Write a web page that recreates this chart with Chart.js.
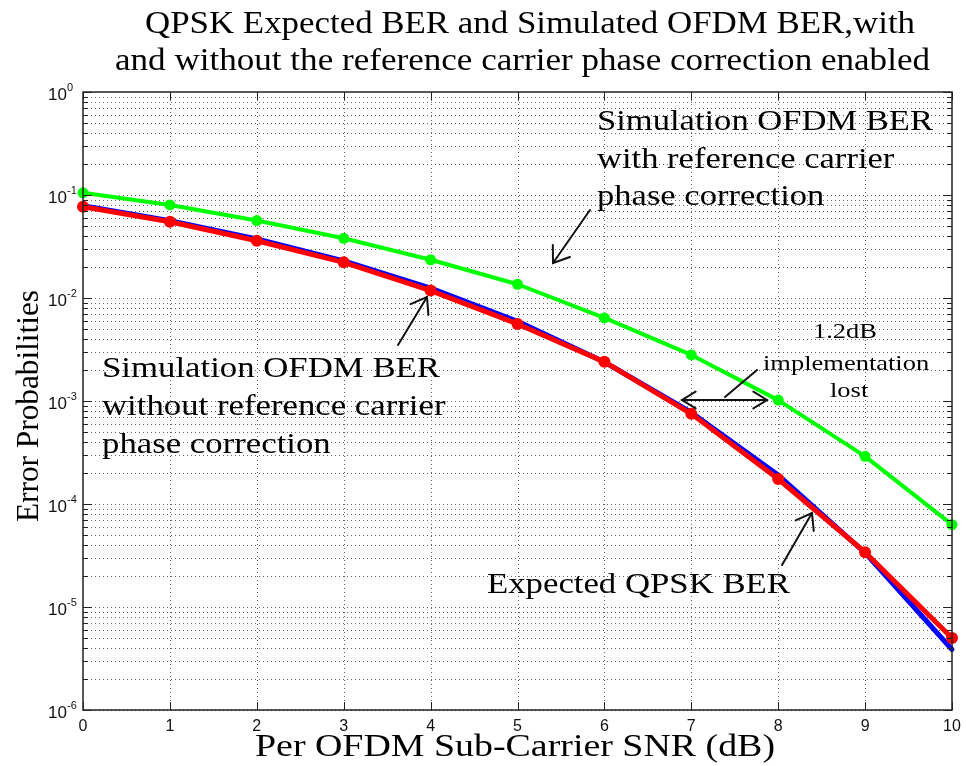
<!DOCTYPE html>
<html>
<head>
<meta charset="utf-8">
<script src="https://cdn.jsdelivr.net/npm/chart.js@4.4.1/dist/chart.umd.min.js"></script>
<style>
  html, body { margin: 0; padding: 0; background: #fff; }
  #wrap { width: 966px; height: 766px; position: relative; }
</style>
</head>
<body>
<div id="wrap"><canvas id="berChart"></canvas></div>
<script>
// ── DATA ──
const snrDb        = [0, 1, 2, 3, 4, 5, 6, 7, 8, 9, 10];
const berWithPhase = [0.105, 0.080, 0.0565, 0.038, 0.0235, 0.0136, 0.0064, 0.0028, 1.02e-3, 2.9e-4, 6.3e-5];
const berNoPhase   = [0.077, 0.055, 0.036, 0.0222, 0.0118, 0.0056, 0.0024, 7.5e-4, 1.75e-4, 3.4e-5, 5.0e-6];
const berExpected  = [0.0786, 0.0563, 0.0375, 0.0229, 0.0125, 0.00595, 0.00239, 7.73e-4, 1.91e-4, 3.36e-5, 3.87e-6];
const xTicks       = [0, 1, 2, 3, 4, 5, 6, 7, 8, 9, 10];
const yDecades     = [0, -1, -2, -3, -4, -5, -6];

const SERIF = '"Liberation Serif", "Times New Roman", serif';
const SANS  = '"Liberation Sans", Arial, sans-serif';

const toPoints = ys => snrDb.map((x, i) => ({ x, y: ys[i] }));

// ── TEXT HELPERS ──
// draws a string squeezed/stretched so it spans the given width
function fitText(ctx, str, left, baseline, width) {
  const w = ctx.measureText(str).width;
  ctx.save();
  ctx.translate(left, baseline);
  ctx.scale(width / w, 1);
  ctx.fillText(str, 0, 0);
  ctx.restore();
}

// block of lines sharing the horizontal scale of its first line;
// left can be one x for all lines or one x per line
function textBlock(ctx, lines, left, baselines, firstWidth) {
  const k = firstWidth / ctx.measureText(lines[0]).width;
  lines.forEach((s, i) => {
    ctx.save();
    ctx.translate(Array.isArray(left) ? left[i] : left, baselines[i]);
    ctx.scale(k, 1);
    ctx.fillText(s, 0, 0);
    ctx.restore();
  });
}

function arrowHead(ctx, tx, ty, fx, fy, len, spread) {
  const a = Math.atan2(fy - ty, fx - tx);
  ctx.beginPath();
  ctx.moveTo(tx + len * Math.cos(a - spread), ty + len * Math.sin(a - spread));
  ctx.lineTo(tx, ty);
  ctx.lineTo(tx + len * Math.cos(a + spread), ty + len * Math.sin(a + spread));
  ctx.stroke();
}

function arrow(ctx, fx, fy, tx, ty) {
  ctx.beginPath();
  ctx.moveTo(fx, fy);
  ctx.lineTo(tx, ty);
  ctx.stroke();
  arrowHead(ctx, tx, ty, fx, fy, 18, 0.62);
}

// ── GRID (dotted, matlab style) ──
const gridPlugin = {
  id: 'dottedGrid',
  beforeDatasetsDraw(chart) {
    const { ctx, chartArea: a, scales: { x, y } } = chart;
    ctx.save();
    ctx.strokeStyle = '#666';
    ctx.lineWidth = 1;
    ctx.setLineDash([1, 3]);
    xTicks.slice(1, -1).forEach(v => {
      const px = Math.round(x.getPixelForValue(v)) + 0.5;
      ctx.beginPath(); ctx.moveTo(px, a.top); ctx.lineTo(px, a.bottom); ctx.stroke();
    });
    yDecades.slice(1).forEach(e => {
      for (let m = 1; m <= 9; m++) {
        const v = m * Math.pow(10, e);
        if (v >= 1) continue;
        const py = Math.round(y.getPixelForValue(v)) + 0.5;
        ctx.beginPath(); ctx.moveTo(a.left, py); ctx.lineTo(a.right, py); ctx.stroke();
      }
    });
    ctx.restore();
  }
};

// ── FRAME, TICKS, LABELS, NOTES ──
const framePlugin = {
  id: 'frameAndNotes',
  afterDatasetsDraw(chart) {
    const { ctx, chartArea: a, scales: { x, y } } = chart;
    ctx.save();

    // box
    ctx.strokeStyle = '#222';
    ctx.lineWidth = 1.5;
    ctx.strokeRect(a.left, a.top, a.right - a.left, a.bottom - a.top);

    // inward ticks
    ctx.lineWidth = 1;
    xTicks.forEach(v => {
      const px = Math.round(x.getPixelForValue(v)) + 0.5;
      ctx.beginPath();
      ctx.moveTo(px, a.bottom); ctx.lineTo(px, a.bottom - 8);
      ctx.moveTo(px, a.top);    ctx.lineTo(px, a.top + 8);
      ctx.stroke();
    });
    yDecades.forEach(e => {
      for (let m = 1; m <= 9; m++) {
        const v = m * Math.pow(10, e);
        if (v > 1) continue;
        const py = Math.round(y.getPixelForValue(v)) + 0.5;
        const len = m === 1 ? 9 : 5;
        ctx.beginPath();
        ctx.moveTo(a.left, py);  ctx.lineTo(a.left + len, py);
        ctx.moveTo(a.right, py); ctx.lineTo(a.right - len, py);
        ctx.stroke();
      }
    });

    // tick labels
    ctx.fillStyle = '#111';
    ctx.font = '16px ' + SANS;
    ctx.textAlign = 'center';
    ctx.textBaseline = 'middle';
    xTicks.forEach(v => ctx.fillText(String(v), x.getPixelForValue(v), a.bottom + 17));

    ctx.textBaseline = 'alphabetic';
    yDecades.forEach(e => {
      const py = y.getPixelForValue(Math.pow(10, e));
      ctx.font = '17px ' + SANS;
      ctx.textAlign = 'right';
      ctx.fillText('10', 67, py + 8);
      ctx.font = '11px ' + SANS;
      ctx.textAlign = 'left';
      ctx.fillText(String(e), 67, py - 1);
    });

    // titles
    ctx.fillStyle = '#000';
    ctx.textAlign = 'left';
    ctx.font = '32px ' + SERIF;
    fitText(ctx, 'QPSK Expected BER and Simulated OFDM BER,with', 145, 33, 770);
    fitText(ctx, 'and without the reference carrier phase correction enabled', 115, 70, 815);
    fitText(ctx, 'Per OFDM Sub-Carrier SNR (dB)', 255, 756, 520);

    ctx.save();
    ctx.translate(38, 522);
    ctx.rotate(-Math.PI / 2);
    fitText(ctx, 'Error Probabilities', 0, 0, 232);
    ctx.restore();

    // annotations
    ctx.font = '30px ' + SERIF;
    textBlock(ctx, ['Simulation OFDM BER', 'with reference carrier', 'phase correction'],
      597, [130, 168, 205], 336);
    textBlock(ctx, ['Simulation OFDM BER', 'without reference carrier', 'phase correction'],
      102, [377, 415, 453], 338);
    fitText(ctx, 'Expected QPSK BER', 487, 593, 303);

    ctx.font = '21px ' + SERIF;
    textBlock(ctx, ['1.2dB', 'implementation', 'lost'],
      [813, 763, 830], [338, 370, 397], 64);

    ctx.strokeStyle = '#111';
    ctx.lineWidth = 2;
    ctx.lineCap = 'round';
    arrow(ctx, 590, 210, 553, 263);
    arrow(ctx, 398, 345, 427, 297);
    arrow(ctx, 782, 565, 812, 513);

    // 1.2dB gap marker
    ctx.beginPath();
    ctx.moveTo(682, 400); ctx.lineTo(767, 400);
    ctx.moveTo(725, 397); ctx.lineTo(757, 370);
    ctx.stroke();
    arrowHead(ctx, 682, 400, 767, 400, 16, 0.55);
    arrowHead(ctx, 767, 400, 682, 400, 16, 0.55);

    ctx.restore();
  }
};

// ── CHART ──
const ctx = document.getElementById('berChart').getContext('2d');

new Chart(ctx, {
  type: 'line',
  data: {
    datasets: [
      {
        label: 'Simulated OFDM BER, no phase correction',
        data: toPoints(berNoPhase),
        borderColor: '#ff0000',
        backgroundColor: '#ff0000',
        borderWidth: 5,
        pointRadius: 6,
        pointBorderWidth: 0,
        order: 1,
      },
      {
        label: 'Expected QPSK BER',
        data: toPoints(berExpected),
        borderColor: '#0000ff',
        backgroundColor: '#0000ff',
        borderWidth: 5,
        pointRadius: 0,
        order: 2,
      },
      {
        label: 'Simulated OFDM BER, phase correction',
        data: toPoints(berWithPhase),
        borderColor: '#00ff00',
        backgroundColor: '#00ff00',
        borderWidth: 4,
        pointRadius: 5.5,
        pointBorderWidth: 0,
        order: 3,
      },
    ]
  },
  options: {
    responsive: true,
    maintainAspectRatio: false,
    animation: false,
    layout: { padding: { left: 83, top: 92, right: 14, bottom: 56 } },
    elements: {
      line: { tension: 0, borderJoinStyle: 'round', borderCapStyle: 'round', fill: false },
    },
    datasets: { line: { clip: false } },
    plugins: {
      legend:  { display: false },
      tooltip: { enabled: false },
    },
    scales: {
      x: { type: 'linear', min: 0, max: 10, display: false },
      y: { type: 'logarithmic', min: 1e-6, max: 1, display: false },
    }
  },
  plugins: [gridPlugin, framePlugin]
});
</script>
</body>
</html>
